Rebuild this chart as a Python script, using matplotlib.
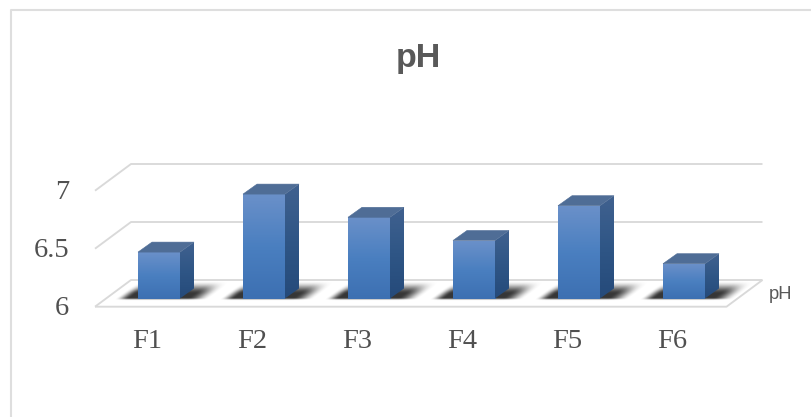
import numpy as np
import matplotlib
matplotlib.use('Agg')
import matplotlib.pyplot as plt
from matplotlib.patches import Polygon
from matplotlib.colors import LinearSegmentedColormap

categories = ['F1', 'F2', 'F3', 'F4', 'F5', 'F6']
ph_values = [6.4, 6.9, 6.7, 6.5, 6.8, 6.3]
y_ticks = [6, 6.5, 7]
y_labels = ['6', '6.5', '7']
title = 'pH'
series_name = 'pH'

W, H = 811, 417
fig = plt.figure(figsize=(W / 100, H / 100), dpi=100)
ax = fig.add_axes([0, 0, 1, 1])

# one category = 105 px, one pH unit = 116 px
px_x = 1 / 105
px_y = 1 / 116
xlim = (-159 * px_x, (W - 159) * px_x)
ylim = (6 - (H - 298.5) * px_y, 6 + 298.5 * px_y)
ax.axis('off')

bar_w = 42 * px_x
dx = 14 * px_x
dy = 10 * px_y

front_cmap = LinearSegmentedColormap.from_list('front', ['#6a90c9', '#4a7fc0', '#3d70b2'])
side_cmap = LinearSegmentedColormap.from_list('side', ['#40618f', '#2f5686', '#254a7a'])
grad = np.linspace(0, 1, 64).reshape(-1, 1)


def smooth(t):
    t = np.clip(t, 0, 1)
    return t * t * (3 - 2 * t)


# soft shadow, in pixels relative to the bar's front left foot
sx = np.arange(-26, 90, 0.5)
sy = np.arange(-3, 18, 0.5)
xx, yy = np.meshgrid(sx, sy)
sheared = xx - yy * 1.35
alpha = (smooth((sheared + 22) / 14) * smooth((72 - sheared) / 22)
         * smooth((yy + 2.5) / 2.5) * smooth((17 - yy) / 13)) * 0.95
shadow = np.zeros(xx.shape + (4,))
shadow[..., :3] = 0.17
shadow[..., 3] = alpha

# walls and floor
grid = '#d9d9d9'
floor_front = 6 - 8.2 * px_y
left = -64 * px_x
right = 567.5 * px_x
depth_x = 36 * px_x
depth_y = 26.7 * px_y
for t in y_ticks:
    y0 = floor_front + (t - 6)
    ax.plot([left, left + depth_x, right + depth_x],
            [y0, y0 + depth_y, y0 + depth_y], color=grid, lw=1.35, zorder=1,
            solid_capstyle='butt')
ax.plot([left, right, right + depth_x],
        [floor_front, floor_front, floor_front + depth_y], color=grid, lw=1.35, zorder=1,
        solid_capstyle='butt')

# chart frame
frame_x = [-148 * px_x, -148 * px_x, 652 * px_x]
frame_y = [ylim[0], 6 + 288.5 * px_y, 6 + 288.5 * px_y]
ax.plot(frame_x, frame_y, color='#dedede', lw=1.5, zorder=1, solid_capstyle='butt')

for i, v in enumerate(ph_values):
    x0 = i - bar_w / 2
    x1 = i + bar_w / 2
    ax.imshow(shadow, extent=(x0 + sx[0] * px_x, x0 + sx[-1] * px_x,
                              6 + sy[0] * px_y, 6 + sy[-1] * px_y),
              origin='lower', aspect='auto', zorder=2, interpolation='bilinear',
              interpolation_stage='rgba')
    # front face
    ax.imshow(grad, cmap=front_cmap, extent=(x0, x1, 6, v), aspect='auto', zorder=4,
              origin='upper')
    # side face
    side = Polygon([(x1, 6), (x1 + dx, 6 + dy), (x1 + dx, v + dy), (x1, v)],
                   closed=True, fc='none', ec='none')
    ax.add_patch(side)
    im2 = ax.imshow(grad, cmap=side_cmap, extent=(x1, x1 + dx, 6, v + dy), aspect='auto',
                    zorder=4, origin='upper')
    im2.set_clip_path(side)
    # top face, thin edge hides the seam against the front
    ax.add_patch(Polygon([(x0, v), (x1, v), (x1 + dx, v + dy), (x0 + dx, v + dy)],
                         closed=True, fc='#4f6d96', ec='#4f6d96', lw=0.4, zorder=5))

ax.set_xlim(xlim)
ax.set_ylim(ylim)

serif = 'Liberation Serif'
for i, c in enumerate(categories):
    ax.text(i - 12 * px_x, 6 - 43 * px_y, c, family=serif, fontsize=20.5, color='#505050',
            ha='center', va='center')
for t, lab in zip(y_ticks, y_labels):
    ax.text(-90 * px_x, floor_front + (t - 6) + 1.0 * px_y - 2.5 * px_y, lab, family=serif,
            fontsize=20.5, color='#505050', ha='right', va='center')
ax.text(622 * px_x, 6 + 4.5 * px_y, series_name, family='Liberation Sans', fontsize=13.2,
        color='#595959', ha='center', va='center')
ax.text(259.5 * px_x, 6 + 240 * px_y, title, family='Liberation Sans', fontsize=24.5,
        fontweight='bold', color='#595959', ha='center', va='center')

fig.savefig('out.png', dpi=100)
